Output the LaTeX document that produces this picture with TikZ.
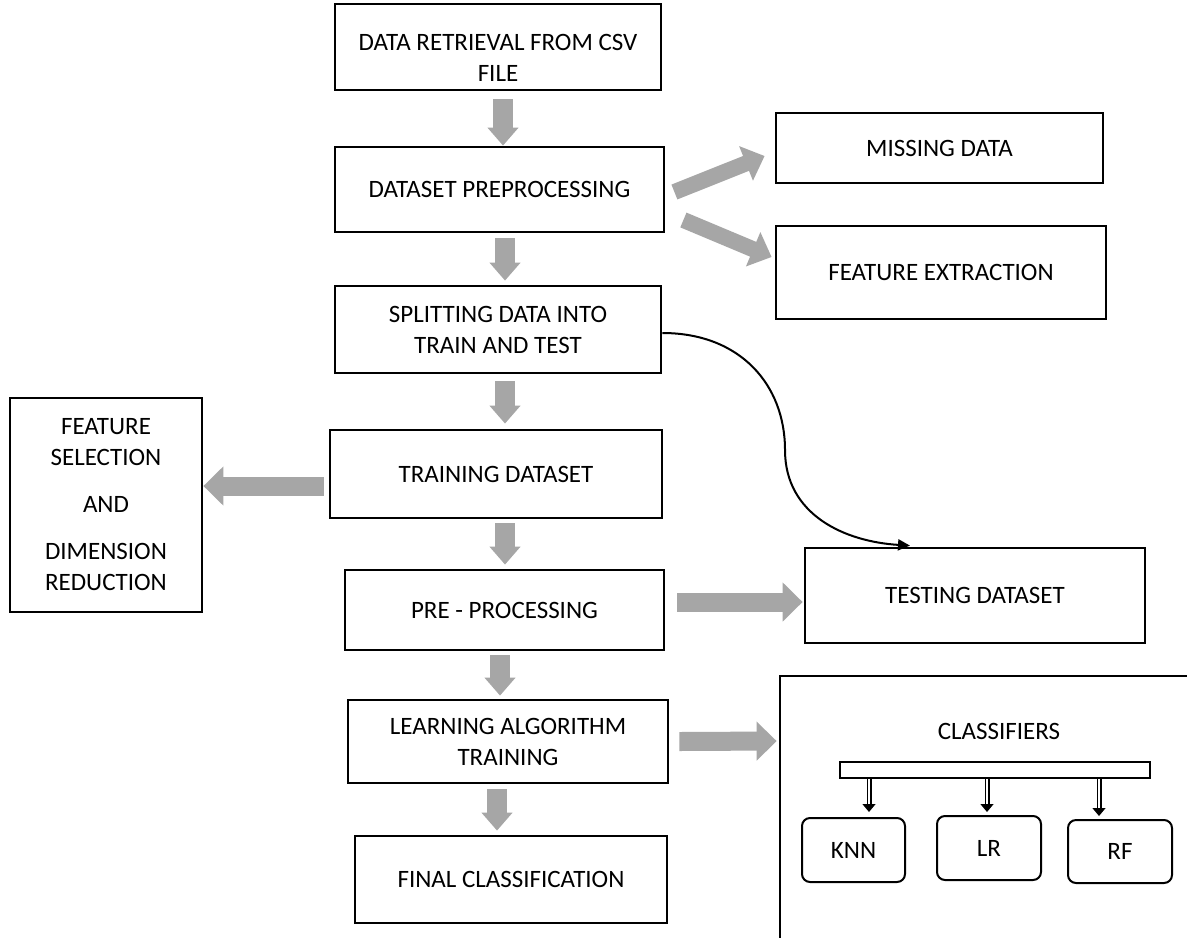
\documentclass[tikz,border=0pt]{standalone}
\usepackage{fontspec}
\setmainfont{Carlito}
\usetikzlibrary{arrows.meta,calc}
\definecolor{garr}{HTML}{A6A6A6}
\begin{document}
\begin{tikzpicture}[x=0.5pt,y=-0.5pt,
  txt/.style={font=\fontsize{12.5pt}{15.5pt}\selectfont},
  box/.style={draw,line width=1.4pt,inner sep=0pt,align=center,txt},
  rbox/.style={draw,line width=1pt,rounded corners=4pt,inner sep=0pt,align=center,txt},
  garrv/.style={draw=garr,line width=10pt,-{Triangle[length=9pt,width=15pt]}},
  garrh/.style={draw=garr,line width=9.5pt,-{Triangle[length=10pt,width=19pt]}},
  garrd/.style={draw=garr,line width=8pt,-{Triangle[length=10pt,width=18pt]}},
  sarrow/.style={double,double distance=1.3pt,line width=0.6pt,-{Triangle[length=4pt,width=6.5pt]}},
  curvearr/.style={line width=1pt,-{Triangle[length=6pt,width=5.5pt]}}]
\useasboundingbox (0,0) rectangle (1187,937);
\clip (0,0) rectangle (1187,937);
\fill[white] (0,0) rectangle (1187,937);
% main column
\node[box,minimum width=163pt,minimum height=43pt,
  label={[txt,align=center,yshift=-5.5pt]center:DATA RETRIEVAL FROM CSV\\FILE}] (retr) at (498,47) {};
\node[box,minimum width=164.5pt,minimum height=42.5pt] (prep) at (499.5,189.5) {DATASET PREPROCESSING};
\node[box,minimum width=163pt,minimum height=43.5pt] (split) at (498,329.5) {SPLITTING DATA INTO\\TRAIN AND TEST};
\node[box,minimum width=166pt,minimum height=44pt] (train) at (496,474) {TRAINING DATASET};
\node[box,minimum width=159.5pt,minimum height=40pt] (pre) at (504.5,610) {PRE - PROCESSING};
\node[box,minimum width=160pt,minimum height=41.5pt] (learn) at (508,741.5) {LEARNING ALGORITHM\\TRAINING};
\node[box,minimum width=156pt,minimum height=43.5pt] (final) at (511,879.5) {FINAL CLASSIFICATION};
% right column
\node[box,minimum width=163.5pt,minimum height=35pt] (miss) at (939.5,148) {MISSING DATA};
\node[box,minimum width=165pt,minimum height=46.5pt] (fext) at (941,272.5) {FEATURE EXTRACTION};
\node[box,minimum width=170pt,minimum height=47.5pt] (test) at (975,595.5) {TESTING DATASET};
% left
\node[box,minimum width=96pt,minimum height=107pt] (fsel) at (106,505) {FEATURE\\SELECTION\\[8pt]AND\\[8pt]DIMENSION\\REDUCTION};
% classifiers panel
\node[box,minimum width=210pt,minimum height=137pt] (cls) at (990,813) {};
\node[txt] (clst) at (999,731) {CLASSIFIERS};
\node[draw,line width=1pt,minimum width=155pt,minimum height=8pt,inner sep=0pt] (bar) at (995,770) {};
\node[rbox,minimum width=51.5pt,minimum height=32pt] (knn) at (853.5,850) {KNN};
\node[rbox,minimum width=52pt,minimum height=32pt] (lr) at (989,848) {LR};
\node[rbox,minimum width=52pt,minimum height=31.5pt] (rf) at (1120,851.5) {RF};
% gray arrows down
\draw[garrv] ([xshift=2.5pt,yshift=-4pt]retr.south) -- ([xshift=1.75pt]prep.north);
\draw[garrv] ([xshift=2.75pt,yshift=-2.5pt]prep.south) -- ([xshift=3.5pt,yshift=2pt]split.north);
\draw[garrv] ([xshift=3.5pt,yshift=-3.5pt]split.south) -- ([xshift=4.5pt,yshift=2.5pt]train.north);
\draw[garrv] ([xshift=4.5pt,yshift=-2pt]train.south) -- ([xshift=0.25pt,yshift=2pt]pre.north);
\draw[garrv] ([xshift=-2.25pt,yshift=-2pt]pre.south) -- ([xshift=-4pt,yshift=1.5pt]learn.north);
\draw[garrv] ([xshift=-5.5pt,yshift=-2.5pt]learn.south) -- ([xshift=-7pt,yshift=2pt]final.north);
% gray arrows sideways
\draw[garrh] ([xshift=-2.5pt,yshift=-6pt]train.west) -- ([yshift=9.5pt]fsel.east);
\draw[garrh] ([xshift=6pt,yshift=4pt]pre.east) -- ([xshift=-0.5pt,yshift=-3.25pt]test.west);
\draw[garrh] ([xshift=5pt]learn.east) -- ([xshift=-1pt,yshift=36pt]cls.west);
\draw[garrd] ([xshift=4.5pt,yshift=-1.25pt]prep.east) -- ([xshift=-5pt,yshift=-4pt]miss.west);
\draw[garrd] ([xshift=9pt,yshift=-15.25pt]prep.east) -- ([xshift=-1.5pt,yshift=7.75pt]fext.west);
% curved arrow
\coordinate (mid) at (785,450);
\draw[curvearr] ([yshift=-1.75pt]split.east) .. controls +(78,0) and +(0,-65) .. (mid)
  .. controls +(0,65) and +(-65,-4) .. ([xshift=-32.5pt,yshift=0.5pt]test.north);
% classifier arrows
\draw[sarrow] ([xshift=-63pt]bar.south) -- ([xshift=7.75pt,yshift=2.5pt]knn.north);
\draw[sarrow] ([xshift=-4pt]bar.south) -- ([xshift=-1pt,yshift=1.5pt]lr.north);
\draw[sarrow] ([xshift=52pt]bar.south) -- ([xshift=-10.5pt,yshift=1.5pt]rf.north);
\end{tikzpicture}
\end{document}
